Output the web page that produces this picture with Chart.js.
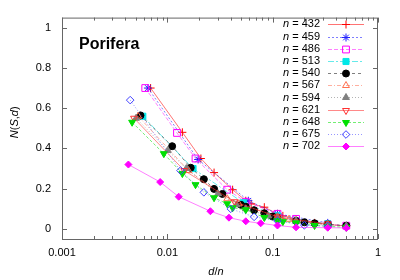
<!DOCTYPE html>
<html>
<head>
<meta charset="utf-8">
<script src="https://cdn.jsdelivr.net/npm/chart.js@4"></script>
<style>
  body { margin: 0; background: #fff; }
  canvas { display: block; }
</style>
</head>
<body>
<canvas id="poriferaChart" width="400" height="280"></canvas>
<script>
// series labels (n) and values: x = d/n, y = N(S,d)
const seriesN = [432, 459, 486, 513, 540, 567, 594, 621, 648, 675, 702];

const x432 = [0.00694, 0.01389, 0.02083, 0.02778, 0.04167, 0.05556, 0.0625, 0.08333, 0.1111, 0.125, 0.1667, 0.25, 0.3333, 0.5];
const y432 = [0.70, 0.48, 0.35, 0.28, 0.195, 0.14, 0.125, 0.108, 0.075, 0.065, 0.049, 0.03, 0.022, 0.015];
const x459 = [0.00654, 0.0196, 0.0588, 0.1111, 0.3333];
const y459 = [0.70, 0.345, 0.14, 0.075, 0.03];
const x486 = [0.00617, 0.01235, 0.01852, 0.03704, 0.05556, 0.1111, 0.1667, 0.3333, 0.5];
const y486 = [0.70, 0.477, 0.35, 0.195, 0.135, 0.075, 0.05, 0.022, 0.016];
const x513 = [0.00585, 0.01754, 0.05263, 0.1111, 0.3333];
const y513 = [0.56, 0.30, 0.13, 0.065, 0.025];
const x540 = [0.00556, 0.01111, 0.01667, 0.02222, 0.02778, 0.03333, 0.05, 0.05556, 0.06667, 0.08333, 0.1, 0.1111, 0.1667, 0.2, 0.25, 0.3333, 0.5];
const y540 = [0.564, 0.411, 0.304, 0.247, 0.199, 0.174, 0.12, 0.11, 0.093, 0.078, 0.062, 0.057, 0.04, 0.033, 0.028, 0.023, 0.016];
const x567 = [0.00529, 0.01587, 0.03704, 0.04762, 0.1111, 0.1429, 0.3333];
const y567 = [0.56, 0.29, 0.15, 0.125, 0.06, 0.048, 0.022];
const x594 = [0.00505, 0.0101, 0.01515, 0.0303, 0.04545, 0.05556, 0.09091, 0.1111, 0.1667, 0.3333, 0.5];
const y594 = [0.55, 0.39, 0.30, 0.175, 0.12, 0.10, 0.065, 0.055, 0.04, 0.022, 0.015];
const x621 = [0.00483, 0.01449, 0.04348, 0.1111, 0.3333];
const y621 = [0.55, 0.29, 0.135, 0.06, 0.025];
const x648 = [0.00463, 0.00926, 0.01389, 0.01852, 0.02778, 0.03704, 0.04167, 0.05556, 0.08333, 0.1111, 0.125, 0.1667, 0.25, 0.3333, 0.5];
const y648 = [0.53, 0.374, 0.275, 0.22, 0.155, 0.125, 0.105, 0.095, 0.057, 0.042, 0.036, 0.03, 0.017, 0.013, 0.008];
const x675 = [0.00444, 0.01333, 0.02222, 0.04, 0.06667, 0.1111, 0.2, 0.3333];
const y675 = [0.64, 0.29, 0.182, 0.10, 0.06, 0.04, 0.018, 0.015];
const x702 = [0.00427, 0.00855, 0.01282, 0.02564, 0.03846, 0.05556, 0.07692, 0.1111, 0.1667, 0.3333, 0.5];
const y702 = [0.32, 0.233, 0.16, 0.088, 0.056, 0.038, 0.028, 0.017, 0.008, 0.006, 0.005];

const xTicks = [0.001, 0.01, 0.1, 1];
const yTicks = [0, 0.2, 0.4, 0.6, 0.8, 1];

const xsAll = [x432, x459, x486, x513, x540, x567, x594, x621, x648, x675, x702];
const ysAll = [y432, y459, y486, y513, y540, y567, y594, y621, y648, y675, y702];

// gnuplot-ish styles per series; lines are a paler version of the marker colour
const styles = [
  { color: '#ff0000', line: 'rgba(255,0,0,0.55)', dash: [], point: 'cross', r: 4, fill: false },
  { color: '#2020ff', line: 'rgba(40,40,255,0.6)', dash: [2, 2], point: 'star', r: 4, fill: false },
  { color: '#ff00ff', line: 'rgba(255,0,255,0.5)', dash: [4, 2], point: 'rect', r: 4.8, fill: false },
  { color: '#00e8e8', line: 'rgba(0,220,220,0.6)', dash: [6, 2, 2, 2], point: 'rect', r: 4.3, fill: true },
  { color: '#000000', line: 'rgba(0,0,0,0.5)', dash: [3, 3], point: 'circle', r: 3.5, fill: true },
  { color: '#ff7050', line: 'rgba(255,110,80,0.55)', dash: [4, 2, 1, 2], point: 'triangle', r: 4, fill: false },
  { color: '#808080', line: 'rgba(128,128,128,0.6)', dash: [1, 2], point: 'triangle', r: 4, fill: true },
  { color: '#ff3030', line: 'rgba(255,40,40,0.55)', dash: [], point: 'triangle', r: 4, fill: false, rot: 180 },
  { color: '#00e000', line: 'rgba(0,224,0,0.55)', dash: [3, 2], point: 'triangle', r: 4, fill: true, rot: 180 },
  { color: '#4040ff', line: 'rgba(64,64,255,0.55)', dash: [1, 2], point: 'rectRot', r: 3.8, fill: false },
  { color: '#ff00ff', line: 'rgba(255,0,255,0.5)', dash: [], point: 'rectRot', r: 3.5, fill: true }
];

const FONT = '"Liberation Sans", Arial, sans-serif';
const FSIZE = 11;

const datasets = seriesN.map((n, i) => {
  const s = styles[i];
  return {
    label: 'n = ' + n,
    data: xsAll[i].map((x, j) => ({ x: x, y: ysAll[i][j] })),
    showLine: true,
    borderColor: s.line,
    borderWidth: 1,
    borderDash: s.dash,
    pointStyle: s.point,
    pointRadius: s.r,
    pointRotation: s.rot || 0,
    pointBorderColor: s.color,
    pointBackgroundColor: s.fill ? s.color : 'rgba(0,0,0,0)',
    pointBorderWidth: 1,
    order: seriesN.length - i,
    fill: false
  };
});

function drawMixed(ctx, parts, size, align) {
  // parts: [[text, italic], ...]
  let total = 0;
  const widths = parts.map(p => {
    ctx.font = (p[1] ? 'italic ' : '') + size + 'px ' + FONT;
    const w = ctx.measureText(p[0]).width;
    total += w;
    return w;
  });
  let x = align === 'right' ? -total : -total / 2;
  parts.forEach((p, k) => {
    ctx.font = (p[1] ? 'italic ' : '') + size + 'px ' + FONT;
    ctx.fillText(p[0], x, 0);
    x += widths[k];
  });
}

const decorations = {
  id: 'decorations',
  afterDraw(chart) {
    const { ctx, chartArea: a, scales } = chart;
    const sx = scales.x, sy = scales.y;
    ctx.save();
    ctx.strokeStyle = '#666';
    ctx.lineWidth = 1;
    ctx.setLineDash([]);
    ctx.strokeRect(a.left + 0.5, a.top + 0.5, a.right - a.left - 1, a.bottom - a.top);

    // x ticks, major + minor, mirrored on top
    ctx.beginPath();
    for (let e = 0; e < xTicks.length; e++) {
      const base = xTicks[e];
      for (let m = 1; m <= 9; m++) {
        const v = base * m;
        if (v > 1.0001) break;
        const px = Math.round(sx.getPixelForValue(v)) + 0.5;
        const len = m === 1 ? 5 : 3;
        ctx.moveTo(px, a.bottom); ctx.lineTo(px, a.bottom - len);
        ctx.moveTo(px, a.top); ctx.lineTo(px, a.top + len);
      }
    }
    yTicks.forEach(v => {
      const py = Math.round(sy.getPixelForValue(v)) + 0.5;
      ctx.moveTo(a.left, py); ctx.lineTo(a.left + 5, py);
      ctx.moveTo(a.right, py); ctx.lineTo(a.right - 5, py);
    });
    ctx.stroke();

    // axis titles
    ctx.fillStyle = '#000';
    ctx.textBaseline = 'middle';
    ctx.save();
    ctx.translate(15, (a.top + a.bottom) / 2 - 6);
    ctx.rotate(-Math.PI / 2);
    drawMixed(ctx, [['N', true], ['(', false], ['S', true], [',', false], ['d', true], [')', false]], FSIZE, 'center');
    ctx.restore();
    ctx.save();
    ctx.translate((a.left + a.right) / 2 - 4, 272);
    drawMixed(ctx, [['d', true], ['/', false], ['n', true]], FSIZE, 'center');
    ctx.restore();

    // panel name
    ctx.font = 'bold 16px ' + FONT;
    ctx.textAlign = 'left';
    ctx.fillText('Porifera', 79, 45);

    // key
    const rowY0 = 24.3, rowH = 12.2;
    chart.data.datasets.forEach((ds, i) => {
      const yy = rowY0 + i * rowH;
      ctx.save();
      ctx.translate(320, yy);
      ctx.textAlign = 'left';
      drawMixed(ctx, [['n', true], [' = ' + seriesN[i], false]], FSIZE, 'right');
      ctx.restore();
      ctx.save();
      ctx.strokeStyle = ds.borderColor;
      ctx.lineWidth = 1;
      ctx.setLineDash(ds.borderDash);
      ctx.beginPath();
      ctx.moveTo(328, Math.round(yy) + 0.5);
      ctx.lineTo(364, Math.round(yy) + 0.5);
      ctx.stroke();
      ctx.setLineDash([]);
      ctx.fillStyle = ds.pointBackgroundColor;
      ctx.strokeStyle = ds.pointBorderColor;
      Chart.helpers.drawPoint(ctx, {
        pointStyle: ds.pointStyle,
        radius: ds.pointRadius,
        rotation: ds.pointRotation,
        borderWidth: 1
      }, 346, Math.round(yy) + 0.5);
      ctx.restore();
    });
    ctx.restore();
  }
};

const ctx = document.getElementById('poriferaChart').getContext('2d');
new Chart(ctx, {
  type: 'scatter',
  data: { datasets: datasets },
  options: {
    responsive: false,
    animation: false,
    devicePixelRatio: 1,
    layout: { padding: { top: 14, right: 22, left: 0, bottom: 0 } },
    plugins: {
      legend: { display: false },
      title: { display: false },
      tooltip: { enabled: false }
    },
    scales: {
      x: {
        type: 'logarithmic',
        min: 0.001,
        max: 1,
        grid: { display: false, drawTicks: false },
        border: { display: false },
        afterBuildTicks: s => { s.ticks = xTicks.map(v => ({ value: v })); },
        afterFit: s => { s.height = 41; },
        ticks: {
          padding: 7,
          color: '#000',
          maxRotation: 0,
          font: { family: FONT, size: FSIZE },
          callback: v => String(v)
        }
      },
      y: {
        min: -0.05,
        max: 1.05,
        grid: { display: false, drawTicks: false },
        border: { display: false },
        afterBuildTicks: s => { s.ticks = yTicks.map(v => ({ value: v })); },
        afterFit: s => { s.width = 62; },
        ticks: {
          padding: 11,
          color: '#000',
          font: { family: FONT, size: FSIZE },
          callback: v => String(v)
        }
      }
    }
  },
  plugins: [decorations]
});
</script>
</body>
</html>
